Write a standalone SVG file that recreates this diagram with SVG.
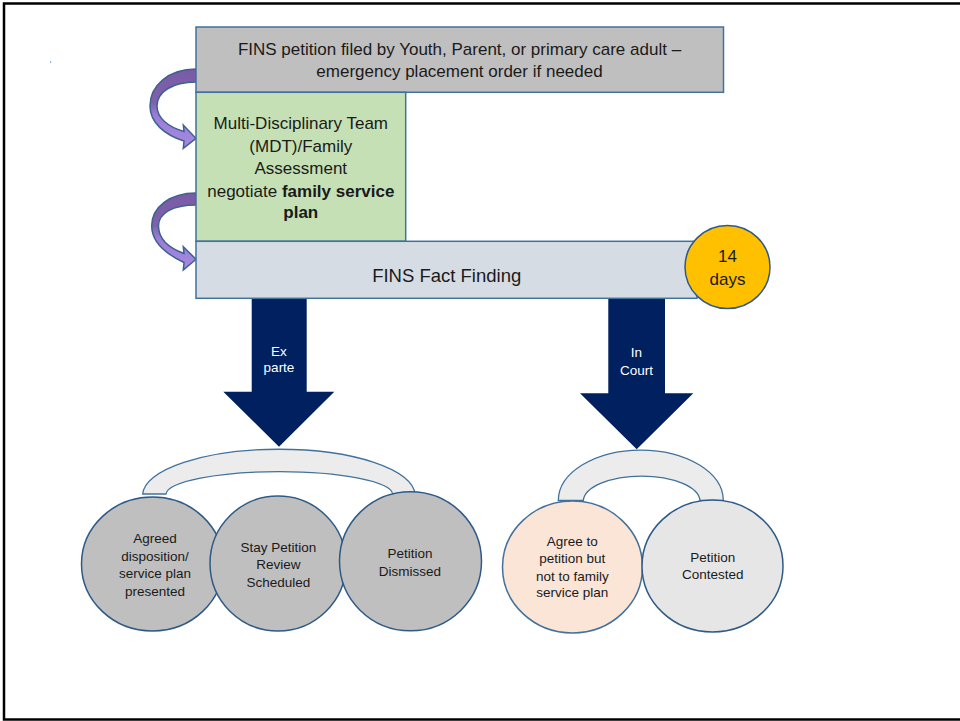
<svg xmlns="http://www.w3.org/2000/svg" width="960" height="721" viewBox="0 0 960 721">
<defs>
<linearGradient id="purp" x1="0" y1="0" x2="0" y2="1">
<stop offset="0" stop-color="#7a5ca6"/>
<stop offset="0.42" stop-color="#7e61aa"/>
<stop offset="0.58" stop-color="#9a7cd6"/>
<stop offset="1" stop-color="#a58be2"/>
</linearGradient>
<style>
text{font-family:"Liberation Sans",Arial,sans-serif;fill:#1a1a1a;text-anchor:middle}
.box{stroke:#41719c;stroke-width:1.5}
.circ{stroke:#2e5a88;stroke-width:1.5}
.curve{fill:url(#purp);stroke:#3d6190;stroke-width:1.5}
.blk{fill:#002060}
.arch{fill:#ececec;stroke:#41719c;stroke-width:1.3}
.wl{fill:#ffffff;font-size:13.5px}
.ct{font-size:13.5px}
</style>
</defs>
<rect x="0" y="0" width="960" height="721" fill="#ffffff"/>
<rect x="4" y="3.5" width="980" height="716" fill="none" stroke="#000" stroke-width="2.5"/>
<rect x="50" y="61.5" width="1.2" height="1.2" fill="#5d86b5"/>

<g id="connectors">
<path class="arch" d="M142.7,494 A136.2,46 0 0 1 415,494 L392.7,494 A113.4,23 0 0 0 166,494 Z"/>
<path class="arch" d="M558.3,500.5 A82.5,50.5 0 0 1 723.3,500.5 L700,500.5 A58.4,25.5 0 0 0 583.3,500.5 Z"/>
<path class="curve" d="M196,69 C168,69 150,86 150,106 C150,123 165,135 184,141 L183.3,148.3 L196,138.3 L183.3,125 L184,131.5 C168,127 157,118 157,106 C157,92 172,82 196,82 Z"/>
<path class="curve" d="M196,193 C170,193 151.7,207 151.7,226 C151.7,242 166,254 184,262.5 L183.3,270 L196,259.3 L183.3,246.7 L184,253.5 C169,248 158.5,239 158.5,226 C158.5,213 173,205 196,205 Z"/>
<path class="blk" d="M251.7,298 L306.7,298 L306.7,391.7 L334.3,391.7 L279,446.7 L223.3,391.7 L251.7,391.7 Z"/>
<path class="blk" d="M608.3,298 L665,298 L665,393.3 L693.3,393.3 L636.7,449.3 L580,393.3 L608.3,393.3 Z"/>
<text class="wl" x="279" y="355.7">Ex</text>
<text class="wl" x="279" y="371.7">parte</text>
<text class="wl" x="636.5" y="356.7">In</text>
<text class="wl" x="636.5" y="375">Court</text>
</g>

<g id="node-petition">
<rect class="box" x="196" y="27" width="527.5" height="65.3" fill="#bfbfbf"/>
<text x="459.5" y="55" font-size="17">FINS petition filed by Youth, Parent, or primary care adult –</text>
<text x="459.5" y="76.7" font-size="17">emergency placement order if needed</text>
</g>

<g id="node-mdt">
<rect class="box" x="196" y="92.3" width="209.7" height="149" fill="#c5e0b4"/>
<text x="300.8" y="129" font-size="17">Multi-Disciplinary Team</text>
<text x="300.8" y="151.7" font-size="17">(MDT)/Family</text>
<text x="300.8" y="174" font-size="17">Assessment</text>
<text x="300.8" y="196.7" font-size="17">negotiate <tspan font-weight="bold">family service</tspan></text>
<text x="300.8" y="218.3" font-size="17" font-weight="bold">plan</text>
</g>

<g id="node-factfinding">
<rect class="box" x="196" y="241.3" width="501" height="57" fill="#d6dce4"/>
<text x="446.7" y="281.7" font-size="18.5">FINS Fact Finding</text>
</g>

<g id="node-14days">
<ellipse cx="727.5" cy="267" rx="42.5" ry="41.5" fill="#ffc000" stroke="#2e5a88" stroke-width="1.5"/>
<text x="727.5" y="262.3" font-size="17">14</text>
<text x="727.5" y="285" font-size="17">days</text>
</g>

<g id="node-agreed">
<ellipse class="circ" cx="152.5" cy="564" rx="71" ry="67" fill="#bfbfbf"/>
<text class="ct" x="155" y="543.3">Agreed</text>
<text class="ct" x="155" y="561">disposition/</text>
<text class="ct" x="155" y="578.3">service plan</text>
<text class="ct" x="155" y="595.7">presented</text>
</g>

<g id="node-stay">
<ellipse class="circ" cx="278" cy="563.5" rx="68" ry="67.5" fill="#bfbfbf"/>
<text class="ct" x="278.3" y="551.7">Stay Petition</text>
<text class="ct" x="278.3" y="569.3">Review</text>
<text class="ct" x="278.3" y="586.7">Scheduled</text>
</g>

<g id="node-dismissed">
<ellipse class="circ" cx="410.5" cy="561.3" rx="71" ry="69.5" fill="#bfbfbf"/>
<text class="ct" x="410" y="558.3">Petition</text>
<text class="ct" x="410" y="576">Dismissed</text>
</g>

<g id="node-agree-petition">
<ellipse cx="572.5" cy="567" rx="70" ry="66" fill="#fbe5d6" stroke="#41719c" stroke-width="1.5"/>
<text class="ct" x="572.3" y="546">Agree to</text>
<text class="ct" x="572.3" y="563.3">petition but</text>
<text class="ct" x="572.3" y="580.7">not to family</text>
<text class="ct" x="572.3" y="597.3">service plan</text>
</g>

<g id="node-contested">
<ellipse class="circ" cx="712.5" cy="566" rx="70.5" ry="66" fill="#e6e6e6"/>
<text class="ct" x="712.7" y="562.3">Petition</text>
<text class="ct" x="712.7" y="579.3">Contested</text>
</g>
</svg>
